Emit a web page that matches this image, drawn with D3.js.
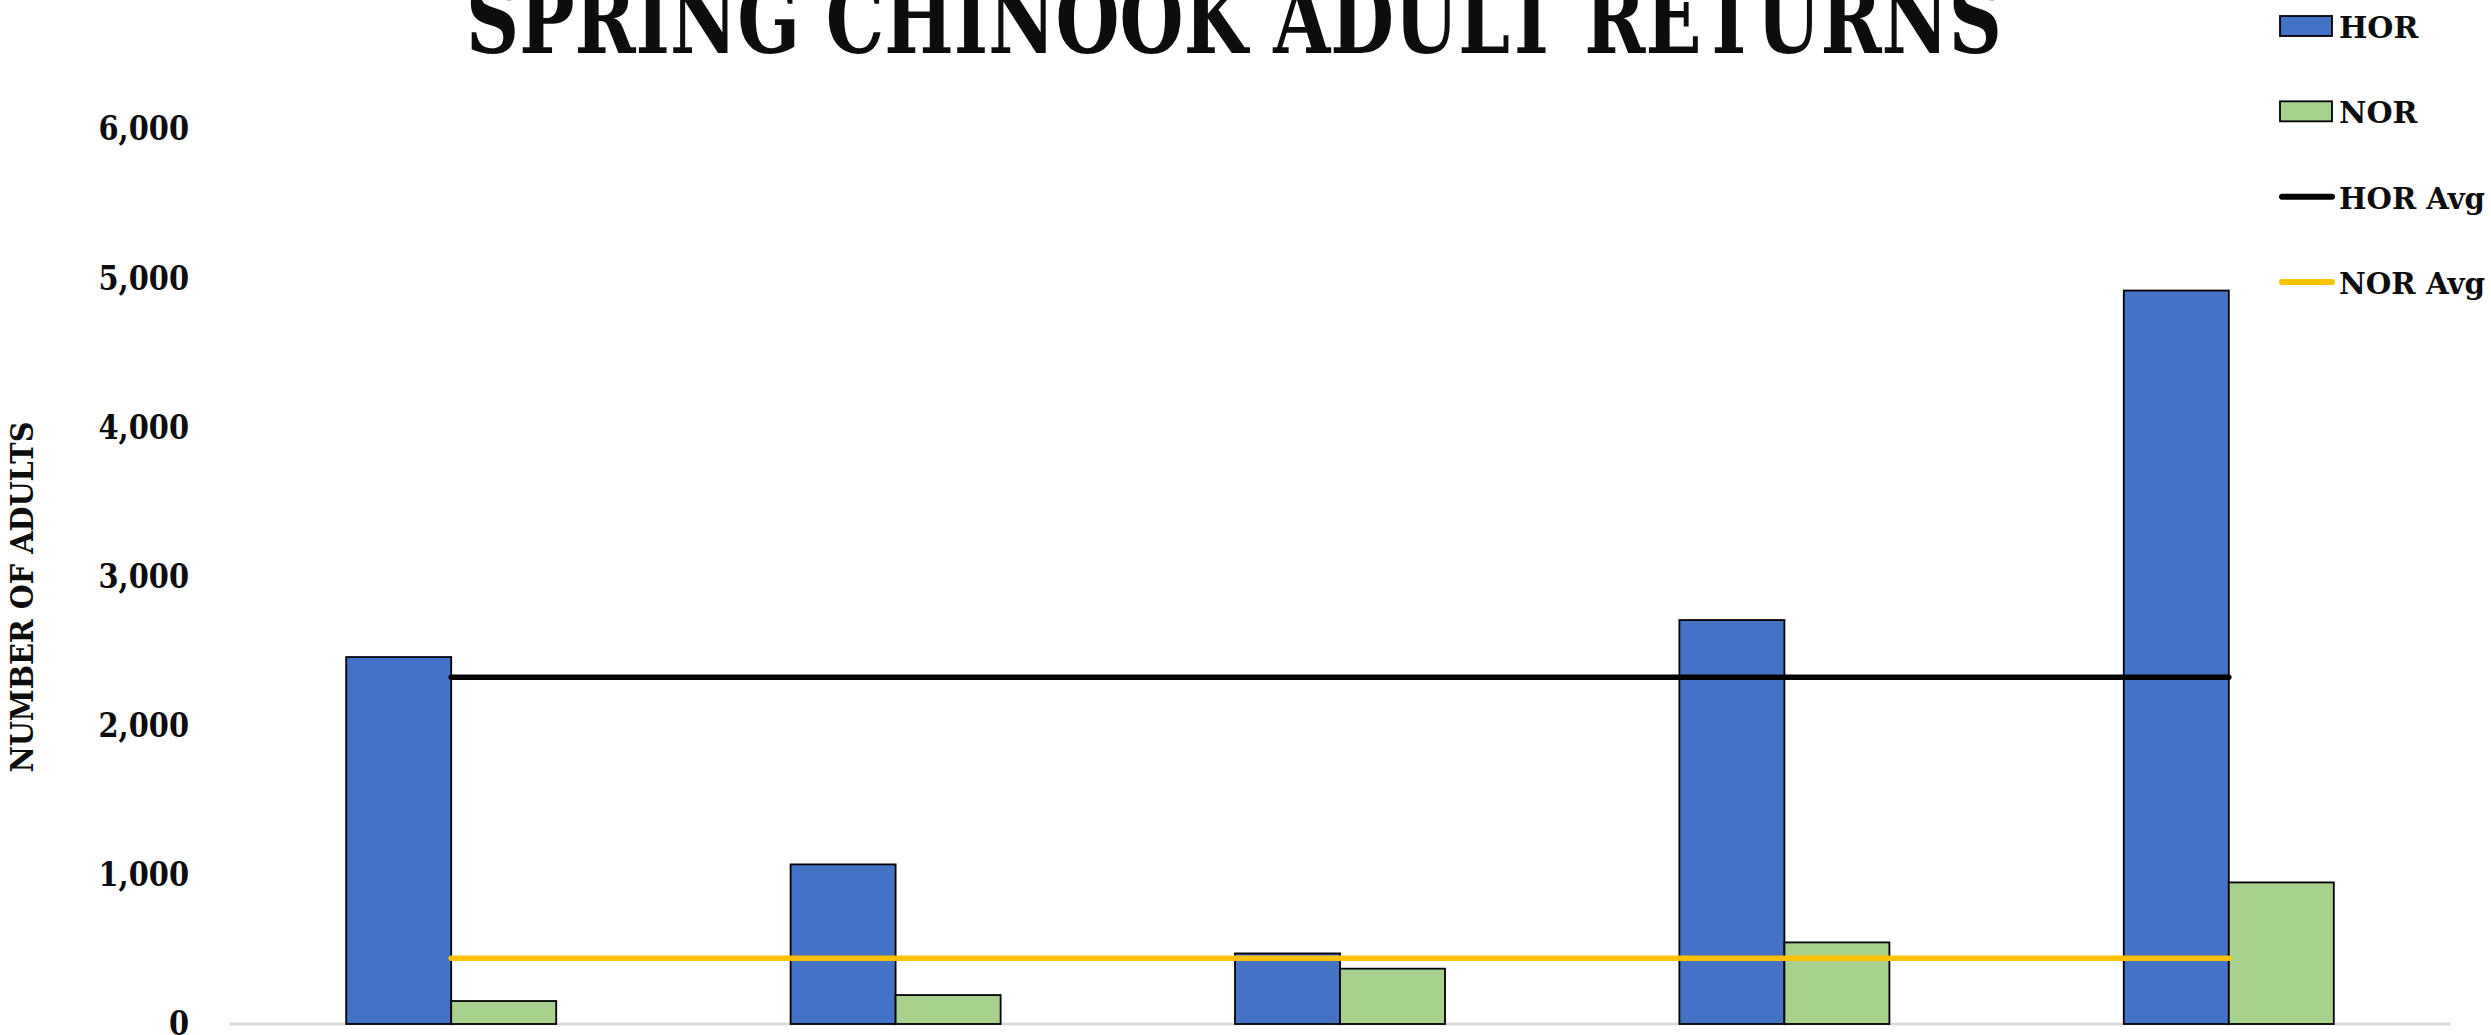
<!DOCTYPE html>
<html>
<head>
<meta charset="utf-8">
<script src="https://cdn.jsdelivr.net/npm/d3@7"></script>
<style>
  html, body { margin: 0; padding: 0; background: #fff; overflow: hidden; }
  svg { display: block; font-family: "DejaVu Serif", serif; font-weight: bold; }
</style>
</head>
<body>
<svg id="chart" width="2491" height="1035"></svg>
<script>
// categories are cut off in the reference, so labels are not drawn
var categories = ['Y1', 'Y2', 'Y3', 'Y4', 'Y5'];
var series = ['HOR', 'NOR'];
var horValues = [2460, 1070, 473, 2708, 4917];
var norValues = [154, 194, 371, 547, 949];
var horAvg = [2325, 2325, 2325, 2325, 2325];
var norAvg = [440, 440, 440, 440, 440];
var yTicks = [0, 1000, 2000, 3000, 4000, 5000, 6000];

var colors = {HOR: '#4472C4', NOR: '#A9D18E', 'HOR Avg': '#000000', 'NOR Avg': '#FFC000'};

var width = 2491, height = 1035;
var svg = d3.select('#chart');

var x0 = d3.scaleBand().domain(categories).range([229, 2451]).padding(0);
var x1 = d3.scaleBand().domain(series).range([0, x0.bandwidth()]).paddingInner(0).paddingOuter(1.116);
var y = d3.scaleLinear().domain([0, 6000]).range([1024, 129]);

//title, clipped at the top like the original
svg.append('text')
  .attr('x', 1234)
  .attr('y', 53)
  .attr('text-anchor', 'middle')
  .attr('font-size', 98)
  .attr('textLength', 1536)
  .attr('lengthAdjust', 'spacingAndGlyphs')
  .attr('fill', '#0d0d0d')
  .text('SPRING CHINOOK ADULT RETURNS');

//y axis title
svg.append('text')
  .attr('transform', 'translate(33,597) rotate(-90)')
  .attr('text-anchor', 'middle')
  .attr('font-size', 32)
  .attr('textLength', 351)
  .attr('lengthAdjust', 'spacingAndGlyphs')
  .attr('fill', '#0d0d0d')
  .text('NUMBER OF ADULTS');

//y axis labels only
var yAxis = svg.append('g')
  .attr('transform', 'translate(189,0)')
  .call(d3.axisLeft(y).tickValues(yTicks).tickSize(0).tickPadding(0).tickFormat(d3.format(',')));
yAxis.select('.domain').remove();
yAxis.selectAll('text')
  .attr('font-family', '"DejaVu Serif", serif')
  .attr('font-weight', 'bold')
  .attr('font-size', 34)
  .attr('fill', '#0d0d0d')
  .each(function() {
    var w = this.getComputedTextLength();
    d3.select(this).attr('textLength', w * 0.85).attr('lengthAdjust', 'spacingAndGlyphs');
  });

//x axis line
svg.append('line')
  .attr('x1', x0.range()[0]).attr('x2', x0.range()[1])
  .attr('y1', y(0)).attr('y2', y(0))
  .attr('stroke', '#d9d9d9')
  .attr('stroke-width', 2.5);

var rows = categories.map(function(c, i) {
  return {cat: c, HOR: horValues[i], NOR: norValues[i]};
});

var groups = svg.selectAll('.group')
  .data(rows)
  .enter().append('g')
  .attr('class', 'group')
  .attr('transform', function(d) { return 'translate(' + x0(d.cat) + ',0)'; });

groups.selectAll('rect')
  .data(function(d) { return series.map(function(s) { return {key: s, value: d[s]}; }); })
  .enter().append('rect')
  .attr('x', function(d) { return x1(d.key); })
  .attr('y', function(d) { return y(d.value); })
  .attr('width', x1.bandwidth())
  .attr('height', function(d) { return y(0) - y(d.value); })
  .attr('fill', function(d) { return colors[d.key]; })
  .attr('stroke', '#000')
  .attr('stroke-width', 1.8);

//average lines across category centres
var line = d3.line()
  .x(function(d) { return x0(d.cat) + x0.bandwidth() / 2; })
  .y(function(d) { return y(d.v); });

[['HOR Avg', horAvg], ['NOR Avg', norAvg]].forEach(function(s) {
  svg.append('path')
    .datum(categories.map(function(c, i) { return {cat: c, v: s[1][i]}; }))
    .attr('d', line)
    .attr('fill', 'none')
    .attr('stroke', colors[s[0]])
    .attr('stroke-width', 5.5)
    .attr('stroke-linecap', 'round');
});

//legend
var legendKeys = ['HOR', 'NOR', 'HOR Avg', 'NOR Avg'];
var legendY = d3.scalePoint().domain(legendKeys).range([26, 282]);

var legend = svg.selectAll('.legend')
  .data(legendKeys)
  .enter().append('g')
  .attr('class', 'legend')
  .attr('transform', function(d) { return 'translate(2280,' + legendY(d) + ')'; });

legend.each(function(d, i) {
  var g = d3.select(this);
  if (i < 2) {
    g.append('rect')
      .attr('x', 0).attr('y', -10)
      .attr('width', 52).attr('height', 20)
      .attr('fill', colors[d])
      .attr('stroke', '#000')
      .attr('stroke-width', 1.8);
  } else {
    g.append('line')
      .attr('x1', 2).attr('x2', 52)
      .attr('y1', 0).attr('y2', 0)
      .attr('stroke', colors[d])
      .attr('stroke-width', 6)
      .attr('stroke-linecap', 'round');
  }
  var t = g.append('text')
    .attr('x', 59)
    .attr('y', 12)
    .attr('font-size', 30)
    .attr('fill', '#0d0d0d')
    .text(d);
  // keep the long labels inside the right edge
  if (t.node().getComputedTextLength() > 146) {
    t.attr('textLength', 146).attr('lengthAdjust', 'spacingAndGlyphs');
  }
});
</script>
</body>
</html>
